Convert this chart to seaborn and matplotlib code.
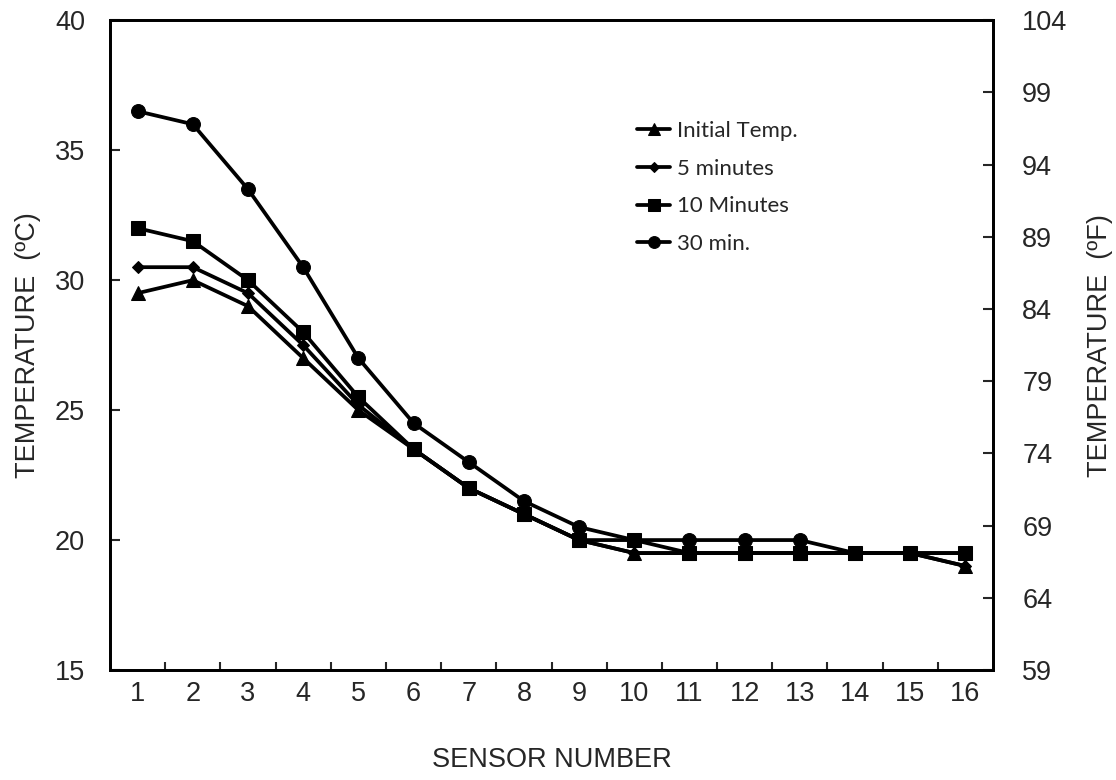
import matplotlib
matplotlib.use("Agg")
import matplotlib.pyplot as plt
import seaborn as sns
import numpy as np
from matplotlib.ticker import FixedLocator

sensors = list(range(1, 17))
initial_temp = [29.5, 30, 29, 27, 25, 23.5, 22, 21, 20, 19.5, 19.5, 19.5, 19.5, 19.5, 19.5, 19]
five_min = [30.5, 30.5, 29.5, 27.5, 25.2, 23.5, 22, 21, 20, 19.5, 19.5, 19.5, 19.5, 19.5, 19.5, 19]
ten_min = [32, 31.5, 30, 28, 25.5, 23.5, 22, 21, 20, 20, 19.5, 19.5, 19.5, 19.5, 19.5, 19.5]
thirty_min = [36.5, 36, 33.5, 30.5, 27, 24.5, 23, 21.5, 20.5, 20, 20, 20, 20, 19.5, 19.5, 19.5]
series_names = ["Initial Temp.", "5 minutes", "10 Minutes", "30 min."]
left_ticks = [15, 20, 25, 30, 35, 40]
right_ticks = [59, 64, 69, 74, 79, 84, 89, 94, 99, 104]

sns.set_style("white")
plt.rcParams['font.family'] = ['Liberation Sans', 'DejaVu Sans']
FS = 19.5

fig = plt.figure(figsize=(11.16, 7.8), dpi=100)
ax = fig.add_axes([0.0986, 0.141, 0.7912, 0.833])

styles = [("^", 10), ("D", 6.5), ("s", 9.5), ("o", 10)]
data = [initial_temp, five_min, ten_min, thirty_min]
for name, vals, (mk, ms) in zip(series_names, data, styles):
    sns.lineplot(x=sensors, y=vals, ax=ax, color="black", marker=mk,
                 markersize=ms, markeredgecolor="black", linewidth=2.7,
                 label=name)

ax.set_xlim(0.5, 16.5)
ax.set_ylim(15, 40)
ax.set_xticks(sensors)
ax.set_xticklabels([str(s) for s in sensors], fontsize=FS)
ax.xaxis.set_minor_locator(FixedLocator(np.arange(1.5, 16.5, 1)))
ax.tick_params(axis="x", which="major", length=0, pad=8)
ax.tick_params(axis="x", which="minor", direction="in", length=6, width=1.5, bottom=True)
ax.set_yticks(left_ticks)
ax.set_yticklabels([str(t) for t in left_ticks], fontsize=FS)
ax.tick_params(axis="y", direction="in", length=7, width=1.5, left=True, pad=18)
for s in ax.spines.values():
    s.set_linewidth(2)
    s.set_color("black")
ax.set_xlabel("SENSOR NUMBER", fontsize=FS, labelpad=29)
ax.set_ylabel("TEMPERATURE  (ºC)", fontsize=FS, labelpad=10)

ax2 = ax.twinx()
ax2.set_ylim(15 * 9 / 5 + 32, 40 * 9 / 5 + 32)
ax2.set_yticks(right_ticks)
ax2.set_yticklabels([str(t) for t in right_ticks], fontsize=FS)
ax2.tick_params(axis="y", direction="in", length=7, width=1.5, right=True, pad=21)
ax2.set_ylabel("TEMPERATURE  (ºF)", fontsize=FS, labelpad=14)
for s in ax2.spines.values():
    s.set_linewidth(2)
    s.set_color("black")

leg = ax.legend(loc="upper left", bbox_to_anchor=(0.574, 0.876), frameon=False,
                prop={"family": ["Lato", "DejaVu Sans"], "size": 16},
                handlelength=1.5, handletextpad=0.3, labelspacing=0.8,
                markerscale=0.85)

fig.savefig("out.png", dpi=100)
